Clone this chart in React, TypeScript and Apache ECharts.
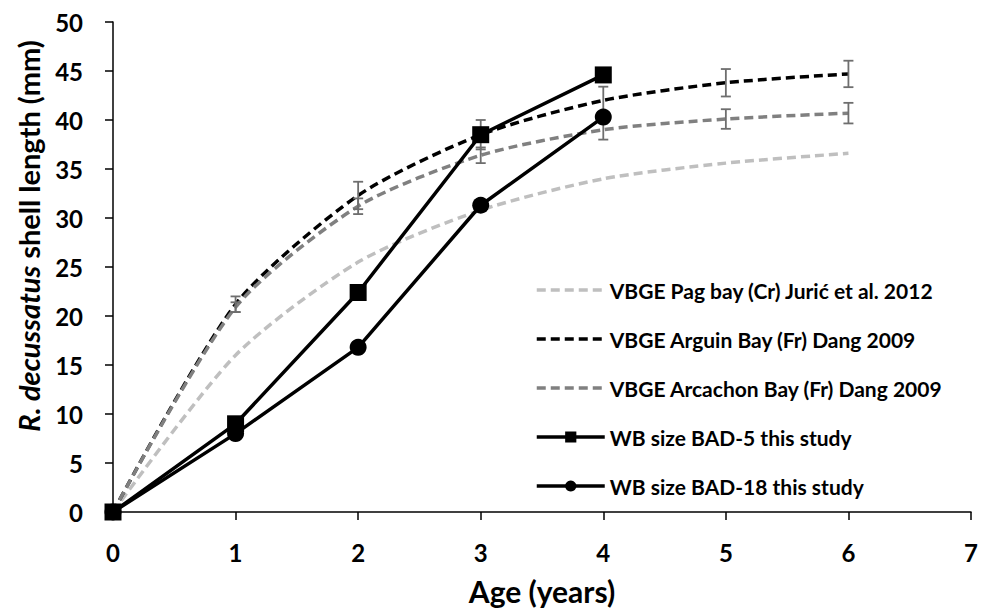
import React, { useEffect, useRef } from "react";
import * as echarts from "echarts";

const ages = [0, 1, 2, 3, 4, 5, 6];
const studyAges = [0, 1, 2, 3, 4];
const pagBay = [0, 16.0, 25.5, 30.8, 34.0, 35.6, 36.6];
const arguinBay = [0, 21.2, 32.3, 38.5, 42.0, 43.8, 44.7];
const arguinErr = [0, 0.8, 1.4, 1.5, 1.4, 1.4, 1.35];
const arcachonBay = [0, 20.9, 31.2, 36.4, 39.0, 40.1, 40.7];
const arcachonErr = [0, 0.5, 0.8, 0.8, 1.0, 1.0, 1.05];
const bad5 = [0, 9.0, 22.4, 38.5, 44.6];
const bad18 = [0, 8.0, 16.8, 31.3, 40.3];

const names = [
  "VBGE Pag bay (Cr) Jurić et al. 2012",
  "VBGE Arguin Bay (Fr) Dang 2009",
  "VBGE Arcachon Bay (Fr) Dang 2009",
  "WB size BAD-5 this study",
  "WB size BAD-18 this study",
];

const FONT = "Lato";

function pairs(xs: number[], ys: number[]) {
  return xs.map((x, i) => [x, ys[i]]);
}

function errData(ys: number[], errs: number[]) {
  const out: number[][] = [];
  ages.forEach((x, i) => {
    if (errs[i] > 0) out.push([x, ys[i] - errs[i], ys[i] + errs[i]]);
  });
  return out;
}

function errorSeries(data: number[][]) {
  return {
    type: "custom",
    silent: true,
    z: 3,
    clip: false,
    data,
    renderItem: (params: any, api: any) => {
      const x = api.value(0);
      const lo = api.coord([x, api.value(1)]);
      const hi = api.coord([x, api.value(2)]);
      const w = 5;
      const style = { stroke: "#6e6e6e", lineWidth: 1.8 };
      return {
        type: "group",
        children: [
          { type: "line", shape: { x1: lo[0], y1: lo[1], x2: hi[0], y2: hi[1] }, style },
          { type: "line", shape: { x1: lo[0] - w, y1: lo[1], x2: lo[0] + w, y2: lo[1] }, style },
          { type: "line", shape: { x1: hi[0] - w, y1: hi[1], x2: hi[0] + w, y2: hi[1] }, style },
        ],
      };
    },
  };
}

export default function App() {
  const ref = useRef<HTMLDivElement>(null);
  useEffect(() => {
    const chart = echarts.init(ref.current!, undefined, { renderer: "svg" });
    const dashed = (color: string) => ({ color, width: 3.5, type: [9, 5] });
    const SMOOTH = 0.25;
    chart.setOption({
      animation: false,
      textStyle: { fontFamily: FONT },
      grid: { left: 113, right: 18, top: 22, bottom: 101, containLabel: false },
      legend: {
        orient: "vertical",
        left: 530,
        top: 273,
        itemWidth: 68,
        itemHeight: 14,
        itemGap: 25,
        lineStyle: { width: 3.5 },
        data: [
          { name: names[0], itemStyle: { opacity: 0 } },
          { name: names[1], itemStyle: { opacity: 0 } },
          { name: names[2], itemStyle: { opacity: 0 } },
          { name: names[3] },
          { name: names[4] },
        ],
        textStyle: { fontFamily: FONT, fontSize: 21, fontWeight: "bold", color: "#000", lineHeight: 24 },
      },
      xAxis: {
        type: "value",
        min: 0,
        max: 7,
        interval: 1,
        name: "Age (years)",
        nameLocation: "middle",
        nameGap: 64,
        nameTextStyle: { fontFamily: FONT, fontSize: 30, fontWeight: "bold", color: "#000" },
        axisLine: { onZero: false, lineStyle: { color: "#000", width: 1.5 } },
        axisTick: { show: true, inside: false, length: 8, lineStyle: { color: "#000", width: 1.5 } },
        axisLabel: { margin: 28, fontFamily: FONT, fontSize: 24, fontWeight: "bold", color: "#000" },
        splitLine: { show: false },
      },
      yAxis: {
        type: "value",
        min: 0,
        max: 50,
        interval: 5,
        axisLine: { show: true, onZero: false, lineStyle: { color: "#000", width: 1.5 } },
        axisTick: { show: true, inside: false, length: 8, lineStyle: { color: "#000", width: 1.5 } },
        axisLabel: { margin: 30, fontFamily: FONT, fontSize: 24, fontWeight: "bold", color: "#000" },
        splitLine: { show: false },
      },
      graphic: [
        {
          type: "text",
          x: 28,
          y: 236,
          rotation: Math.PI / 2,
          style: {
            text: "{i|R. decussatus} shell length (mm)",
            align: "center",
            verticalAlign: "middle",
            fontFamily: FONT,
            fontSize: 29,
            fontWeight: "bold",
            fill: "#000",
            rich: {
              i: { fontFamily: FONT, fontSize: 29, fontWeight: "bold", fontStyle: "italic", fill: "#000" },
            },
          },
        },
      ],
      series: [
        {
          name: names[0],
          type: "line",
          smooth: SMOOTH,
          symbol: "none",
          clip: false,
          data: pairs(ages, pagBay),
          lineStyle: dashed("#bfbfbf"),
          itemStyle: { color: "#bfbfbf" },
          z: 2,
        },
        {
          name: names[1],
          type: "line",
          smooth: SMOOTH,
          symbol: "none",
          clip: false,
          data: pairs(ages, arguinBay),
          lineStyle: dashed("#000000"),
          itemStyle: { color: "#000000" },
          z: 2,
        },
        {
          name: names[2],
          type: "line",
          smooth: SMOOTH,
          symbol: "none",
          clip: false,
          data: pairs(ages, arcachonBay),
          lineStyle: dashed("#808080"),
          itemStyle: { color: "#808080" },
          z: 2,
        },
        errorSeries(errData(arguinBay, arguinErr)),
        errorSeries(errData(arcachonBay, arcachonErr)),
        {
          name: names[3],
          type: "line",
          symbol: "rect",
          symbolSize: 17,
          clip: false,
          data: pairs(studyAges, bad5),
          lineStyle: { color: "#000", width: 3.5 },
          itemStyle: { color: "#000" },
          z: 4,
        },
        {
          name: names[4],
          type: "line",
          symbol: "circle",
          symbolSize: 17,
          clip: false,
          data: pairs(studyAges, bad18),
          lineStyle: { color: "#000", width: 3.5 },
          itemStyle: { color: "#000" },
          z: 4,
        },
      ],
    });
    return () => chart.dispose();
  }, []);
  return (
    <div
      ref={ref}
      style={{ position: "absolute", left: 0, top: 0, width: 989, height: 613, background: "#fff" }}
    />
  );
}
